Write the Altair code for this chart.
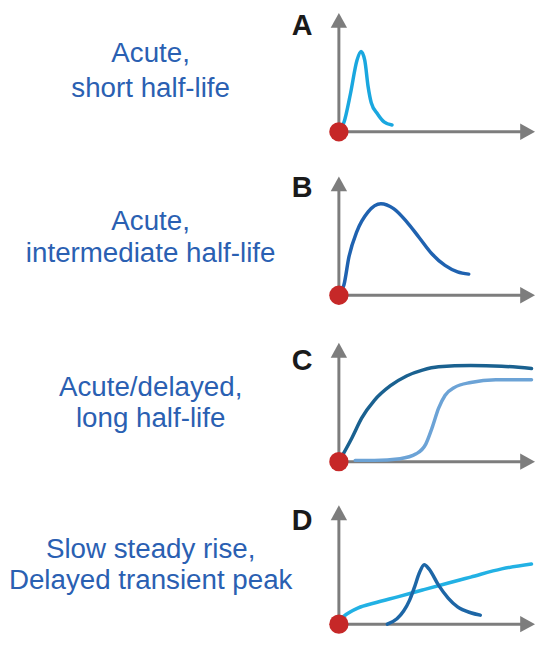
import altair as alt
import pandas as pd

# ---------------- data ----------------
letters = ["A", "B", "C", "D"]
labels_line1 = ["Acute,", "Acute,", "Acute/delayed,", "Slow steady rise,"]
labels_line2 = ["short half-life", "intermediate half-life", "long half-life", "Delayed transient peak"]

# Panel A: acute, short half-life
a_time = [0.0, 0.26, 0.59, 0.92, 1.13, 1.32, 1.49, 1.65, 1.98, 2.30, 2.71]
a_level = [0.0, 0.8, 3.2, 6.0, 6.75, 6.0, 3.8, 2.45, 1.48, 0.84, 0.57]

# Panel B: acute, intermediate half-life
b_time = [0.0, 0.26, 0.51, 0.92, 1.49, 2.14, 2.79, 3.45, 4.10, 4.75, 5.41, 6.05, 6.62]
b_level = [0.0, 0.88, 3.2, 5.38, 7.02, 7.70, 7.29, 6.20, 4.84, 3.47, 2.51, 1.97, 1.78]

# Panel C: acute (dark) and delayed (light), long half-life
c1_time = [0.0, 0.67, 1.16, 1.81, 2.63, 3.45, 4.26, 5.08, 6.72, 8.30, 9.82]
c1_level = [0.0, 2.02, 3.66, 5.16, 6.39, 7.21, 7.70, 7.98, 8.09, 8.03, 7.84]
c2_time = [0.83, 1.81, 3.12, 3.94, 4.43, 4.75, 5.08, 5.41, 5.90, 6.72, 8.00, 9.82]
c2_level = [0.11, 0.11, 0.25, 0.66, 1.48, 2.84, 4.48, 5.57, 6.25, 6.66, 6.89, 6.89]

# Panel D: slow steady rise (light) and delayed transient peak (dark)
d1_time = [0.0, 0.26, 0.99, 1.81, 3.04, 4.26, 5.49, 6.72, 8.30, 9.82]
d1_level = [0.3, 0.68, 1.37, 1.78, 2.32, 2.87, 3.42, 3.96, 4.65, 5.06]
d2_time = [2.47, 2.96, 3.30, 3.60, 3.86, 4.10, 4.35, 4.59, 5.08, 5.57, 6.05, 6.72, 7.21]
d2_level = [0.0, 0.45, 1.1, 2.0, 3.14, 4.3, 5.0, 4.65, 3.28, 2.19, 1.45, 0.96, 0.76]

panel_series = [
    [(a_time, a_level, "#1aa7df")],
    [(b_time, b_level, "#1f62b0")],
    [(c1_time, c1_level, "#1a6190"), (c2_time, c2_level, "#6ca3d6")],
    [(d1_time, d1_level, "#22b1e4"), (d2_time, d2_level, "#1d66a6")],
]

# ---------------- layout / style ----------------
GRAY = "#7d7d7d"
RED = "#c62828"
TEXT_BLUE = "#2a60b2"
FONT = "Liberation Sans"
W = 531
X0 = 333           # pixel x of the origin inside a panel
PX_T = 19.8        # pixels per time unit
PX_V = 12.0        # pixels per level unit
AX_TIP = 10.0

panel_heights = [166, 166, 166, 131]
origin_y = [122, 121, 123, 121]
text_dy = [70, 66, 66, 67]
line_h = [35, 32, 31, 32]
letter_dy = [98, 99, 93, 95]

UP = "M0,0L-0.55,1L0.55,1Z"
RIGHT = "M0,0L-1,-0.55L-1,0.55Z"


def panel(i):
    h = panel_heights[i]
    oy = origin_y[i]
    xs = alt.Scale(domain=[-X0 / PX_T, (W - X0) / PX_T], nice=False, zero=False)
    ys = alt.Scale(domain=[-(h - oy) / PX_V, oy / PX_V], nice=False, zero=False)
    X = lambda f: alt.X(f, type="quantitative", scale=xs, axis=None)
    Y = lambda f: alt.Y(f, type="quantitative", scale=ys, axis=None)

    axes_df = pd.DataFrame({"t": [0.0, 0.0], "v": [0.0, 0.0],
                            "t2": [0.0, AX_TIP - 0.4], "v2": [AX_TIP - 0.6, 0.0]})
    rules = alt.Chart(axes_df).mark_rule(color=GRAY, strokeWidth=3).encode(
        x=X("t"), y=Y("v"), x2="t2", y2="v2")

    up = alt.Chart(pd.DataFrame({"t": [0.0], "v": [AX_TIP]})).mark_point(
        shape=UP, size=900, filled=True, color=GRAY, opacity=1, strokeWidth=0
    ).encode(x=X("t"), y=Y("v"))
    right = alt.Chart(pd.DataFrame({"t": [AX_TIP], "v": [0.0]})).mark_point(
        shape=RIGHT, size=900, filled=True, color=GRAY, opacity=1, strokeWidth=0
    ).encode(x=X("t"), y=Y("v"))

    layers = [rules, up, right]
    for ts, vs, col in panel_series[i]:
        df = pd.DataFrame({"t": ts, "v": vs})
        layers.append(alt.Chart(df).mark_line(
            strokeWidth=3.5, interpolate="monotone", strokeCap="round", color=col
        ).encode(x=X("t"), y=Y("v")))

    dot = alt.Chart(pd.DataFrame({"t": [0.0], "v": [0.0]})).mark_circle(
        size=380, color=RED, opacity=1
    ).encode(x=X("t"), y=Y("v"))

    one = pd.DataFrame({"k": [0]})
    label = alt.Chart(one).mark_text(
        font=FONT, fontSize=28, color=TEXT_BLUE, align="center",
        baseline="alphabetic", lineHeight=line_h[i]
    ).encode(x=alt.value(143), y=alt.value(oy - text_dy[i]),
             text=alt.value([labels_line1[i], labels_line2[i]]))
    letter = alt.Chart(one).mark_text(
        font=FONT, fontSize=29, fontWeight="bold", color="#1a1a1a",
        align="center", baseline="alphabetic"
    ).encode(x=alt.value(296), y=alt.value(oy - letter_dy[i]), text=alt.value(letters[i]))

    layers += [dot, label, letter]
    return alt.layer(*layers).properties(width=W, height=h)


chart = alt.vconcat(*[panel(i) for i in range(4)], spacing=0, bounds="flush").properties(
    padding=0, background="white"
).configure_view(stroke=None)

chart.save("out.html", embed_options={"renderer": "svg", "actions": False})
